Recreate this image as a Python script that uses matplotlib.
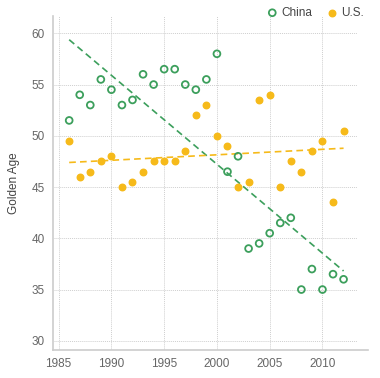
import numpy as np
import matplotlib.pyplot as plt

years = list(range(1986, 2013))
china = [51.5, 54, 53, 55.5, 54.5, 53, 53.5, 56, 55, 56.5, 56.5, 55, 54.5, 55.5, 58,
         46.5, 48, 39, 39.5, 40.5, 41.5, 42, 35, 37, 35, 36.5, 36]
us = [49.5, 46, 46.5, 47.5, 48, 45, 45.5, 46.5, 47.5, 47.5, 47.5, 48.5, 52, 53, 50,
      49, 45, 45.5, 53.5, 54, 45, 47.5, 46.5, 48.5, 49.5, 43.5, 50.5]

GREEN = "#3c9f5c"
GOLD = "#f6ba1a"

plt.rcParams["font.family"] = ["Liberation Sans", "DejaVu Sans"]

fig = plt.figure(figsize=(3.8, 3.78), dpi=100)
ax = fig.add_axes([0.139, 0.074, 0.829, 0.884])

x = np.array(years)
# grid
for yv in range(30, 61, 5):
    ax.plot([1984.6, 2013.3], [yv, yv], color="#cfcfcf", lw=0.7, ls=(0, (1, 1)), zorder=0)
for xv in range(1985, 2011, 5):
    ax.plot([xv, xv], [29.1, 61.7], color="#cfcfcf", lw=0.7, ls=(0, (1, 1)), zorder=0)

ax.scatter(x, china, s=24, facecolors="none", edgecolors=GREEN, linewidths=1.3,
           label="China", zorder=3)
ax.scatter(x, us, s=22, color=GOLD, label="U.S.", zorder=3)

for vals, c in [(china, GREEN), (us, GOLD)]:
    k, b = np.polyfit(x, vals, 1)
    ax.plot(x[[0, -1]], k * x[[0, -1]] + b, color=c, lw=1.2, ls=(0, (4, 2.5)), zorder=2)

ax.set_xlim(1984.45, 2014.3)
ax.set_ylim(29.1, 61.7)
ax.set_xticks(range(1985, 2011, 5))
ax.set_yticks(range(30, 61, 5))
ax.tick_params(length=0, labelsize=8.5, colors="#666666", pad=6)
for s in ["top", "right"]:
    ax.spines[s].set_visible(False)
for s in ["left", "bottom"]:
    ax.spines[s].set_color("#cccccc")
    ax.spines[s].set_linewidth(1.2)
ax.set_ylabel("Golden Age", fontsize=8.5, color="#444444", labelpad=8)

fig.legend(loc="upper right", bbox_to_anchor=(0.985, 1.01), ncol=2, frameon=False,
           fontsize=8.5, handletextpad=0.15, columnspacing=1.1, handlelength=1.2,
           labelcolor="#444444")

fig.savefig("out.png", dpi=100)
